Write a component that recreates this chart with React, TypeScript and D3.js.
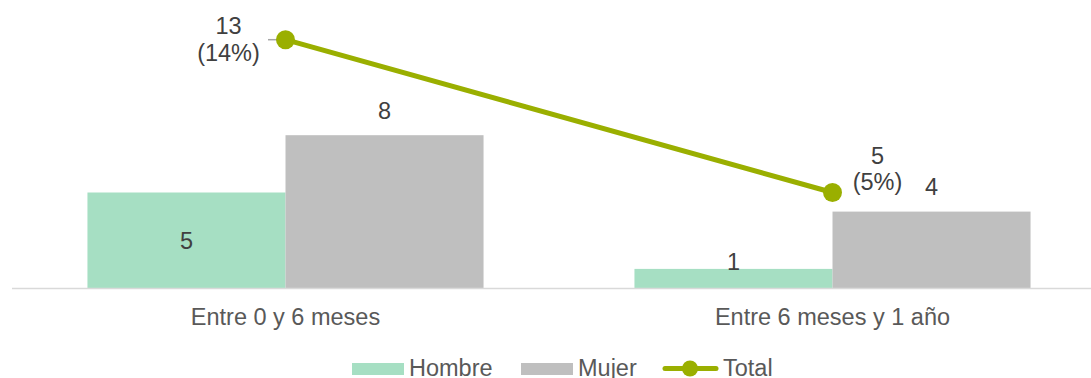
import React from "react";
import * as d3 from "d3";

const categories = ["Entre 0 y 6 meses", "Entre 6 meses y 1 año"];
const seriesNames = ["Hombre", "Mujer"];
const hombre = [5, 1];
const mujer = [8, 4];
const total = [13, 5];
const totalPct = ["14%", "5%"];

const W = 1091;
const H = 378;
const FONT = "'Liberation Sans', Arial, sans-serif";
const FS = 23.5;
const colors: Record<string, string> = { Hombre: "#a6dfc3", Mujer: "#bfbfbf" };
const lineColor = "#9aaf00";

export default function App() {
  const baseY = 288;
  const y = d3.scaleLinear().domain([0, 14]).range([baseY, baseY - 14 * 19.1]);
  const x0 = d3.scaleBand<string>().domain(categories).range([12, 1106]).paddingInner(0).paddingOuter(0);
  const x1 = d3.scaleBand<string>().domain(seriesNames).range([0, x0.bandwidth()]).paddingOuter(0.381).paddingInner(0);
  const values: Record<string, number[]> = { Hombre: hombre, Mujer: mujer };
  const cx = (c: string) => (x0(c) as number) + x0.bandwidth() / 2;

  const line = d3
    .line<number>()
    .x((_, i) => cx(categories[i]))
    .y((d) => y(d));

  // label offsets for total series
  const totalLabelPos = [
    { dx: -57, dy1: -6, dy2: 21 },
    { dx: 45, dy1: -29, dy2: -3 },
  ];

  return (
    <div style={{ position: "absolute", left: 0, top: 0 }}>
      <svg width={W} height={H} style={{ display: "block", fontFamily: FONT }}>
        <rect width={W} height={H} fill="#ffffff" />
        {categories.map((c, ci) =>
          seriesNames.map((s) => {
            const v = values[s][ci];
            const bx = (x0(c) as number) + (x1(s) as number);
            const bw = x1.bandwidth();
            const top = y(v);
            const h = baseY - top;
            let ly: number;
            if (s === "Hombre") {
              ly = h > 24 ? top + h / 2 + 8.5 : top + 1.5;
            } else {
              ly = top - 16.5;
            }
            return (
              <g key={c + s}>
                <rect x={bx} y={top} width={bw} height={h} fill={colors[s]} />
                <text
                  x={bx + bw / 2}
                  y={ly}
                  textAnchor="middle"
                  fontSize={FS}
                  fill="#404040"
                >
                  {v}
                </text>
              </g>
            );
          })
        )}
        <line x1={12} x2={W} y1={baseY + 0.5} y2={baseY + 0.5} stroke="#d9d9d9" strokeWidth={1.5} />
        {categories.map((c) => (
          <text key={c} x={cx(c)} y={325} textAnchor="middle" fontSize={FS} fill="#595959">
            {c}
          </text>
        ))}
        {/* leader line for first total label */}
        <line x1={268} x2={cx(categories[0])} y1={y(total[0])} y2={y(total[0])} stroke="#a6a6a6" strokeWidth={1.5} />
        <path d={line(total) || ""} fill="none" stroke={lineColor} strokeWidth={5} strokeLinecap="round" />
        {total.map((v, i) => (
          <circle key={i} cx={cx(categories[i])} cy={y(v)} r={9.5} fill={lineColor} />
        ))}
        {total.map((v, i) => {
          const p = totalLabelPos[i];
          const px = cx(categories[i]) + p.dx;
          const py = y(v);
          return (
            <g key={"tl" + i}>
              <text x={px} y={py + p.dy1} textAnchor="middle" fontSize={FS} fill="#404040">
                {v}
              </text>
              <text x={px} y={py + p.dy2} textAnchor="middle" fontSize={FS} fill="#404040">
                ({totalPct[i]})
              </text>
            </g>
          );
        })}
        {/* legend */}
        <g>
          <rect x={352} y={363} width={52} height={12} fill={colors.Hombre} />
          <text x={409} y={375.5} fontSize={FS} fill="#595959">Hombre</text>
          <rect x={521} y={363} width={52} height={12} fill={colors.Mujer} />
          <text x={578} y={375.5} fontSize={FS} fill="#595959">Mujer</text>
          <line x1={665} x2={716} y1={368.5} y2={368.5} stroke={lineColor} strokeWidth={5} strokeLinecap="round" />
          <circle cx={690} cy={368.5} r={8} fill={lineColor} />
          <text x={723} y={375.5} fontSize={FS} fill="#595959">Total</text>
        </g>
      </svg>
    </div>
  );
}
